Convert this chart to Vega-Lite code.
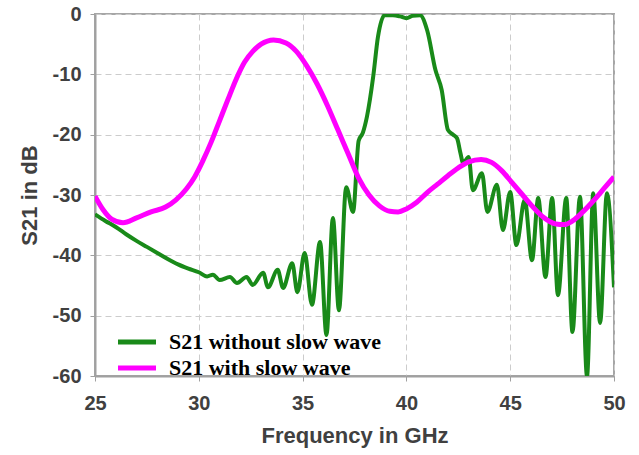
{
  "$schema": "https://vega.github.io/schema/vega-lite/v6.json",
  "width": 519,
  "height": 362,
  "autosize": {"type": "none"},
  "padding": {"left": 95, "top": 14, "right": 25, "bottom": 79},
  "background": "white",
  "config": {
    "view": {"stroke": "#a6a6a6", "strokeWidth": 2},
    "axis": {
      "labelFont": "Liberation Sans",
      "labelFontWeight": "bold",
      "labelFontSize": 20,
      "labelColor": "#404040",
      "labelFlush": false,
      "labelOverlap": false,
      "titleFont": "Liberation Sans",
      "titleFontWeight": "bold",
      "titleFontSize": 22,
      "titleColor": "#404040",
      "domainColor": "#a0a0a0",
      "domainWidth": 2,
      "tickColor": "#a0a0a0",
      "tickSize": 5,
      "gridColor": "#cccccc",
      "gridDash": [6, 4],
      "gridWidth": 1
    },
    "legend": {
      "orient": "none",
      "legendX": 31,
      "legendY": 317,
      "symbolType": "M-2.5,0H2.5",
      "symbolSize": 231,
      "symbolStrokeWidth": 5,
      "labelFont": "Liberation Serif",
      "labelFontWeight": "bold",
      "labelFontSize": 22,
      "labelColor": "#000000",
      "labelOffset": 21,
      "rowPadding": 4,
      "padding": 0,
      "labelLimit": 400
    }
  },
  "data": {
    "values": [
      {"s": "S21 without slow wave", "f": 25.0, "db": -33.2},
      {"s": "S21 without slow wave", "f": 25.5, "db": -34.3},
      {"s": "S21 without slow wave", "f": 26.0, "db": -35.3},
      {"s": "S21 without slow wave", "f": 26.5, "db": -36.5},
      {"s": "S21 without slow wave", "f": 27.0, "db": -37.6},
      {"s": "S21 without slow wave", "f": 27.5, "db": -38.6},
      {"s": "S21 without slow wave", "f": 28.0, "db": -39.6},
      {"s": "S21 without slow wave", "f": 28.5, "db": -40.6},
      {"s": "S21 without slow wave", "f": 29.0, "db": -41.5},
      {"s": "S21 without slow wave", "f": 29.5, "db": -42.2},
      {"s": "S21 without slow wave", "f": 30.0, "db": -42.8},
      {"s": "S21 without slow wave", "f": 30.4, "db": -43.5},
      {"s": "S21 without slow wave", "f": 30.68, "db": -43.2},
      {"s": "S21 without slow wave", "f": 31.0, "db": -44.1},
      {"s": "S21 without slow wave", "f": 31.5, "db": -43.6},
      {"s": "S21 without slow wave", "f": 31.84, "db": -44.6},
      {"s": "S21 without slow wave", "f": 32.3, "db": -43.6},
      {"s": "S21 without slow wave", "f": 32.6, "db": -44.9},
      {"s": "S21 without slow wave", "f": 33.1, "db": -42.9},
      {"s": "S21 without slow wave", "f": 33.33, "db": -45.3},
      {"s": "S21 without slow wave", "f": 33.8, "db": -42.4},
      {"s": "S21 without slow wave", "f": 34.06, "db": -45.4},
      {"s": "S21 without slow wave", "f": 34.5, "db": -41.3},
      {"s": "S21 without slow wave", "f": 34.75, "db": -46.1},
      {"s": "S21 without slow wave", "f": 35.1, "db": -39.6},
      {"s": "S21 without slow wave", "f": 35.45, "db": -48.2},
      {"s": "S21 without slow wave", "f": 35.84, "db": -37.8},
      {"s": "S21 without slow wave", "f": 36.15, "db": -53.2},
      {"s": "S21 without slow wave", "f": 36.46, "db": -33.8},
      {"s": "S21 without slow wave", "f": 36.75, "db": -49.1},
      {"s": "S21 without slow wave", "f": 37.1, "db": -28.7},
      {"s": "S21 without slow wave", "f": 37.43, "db": -32.8},
      {"s": "S21 without slow wave", "f": 37.7, "db": -21.0},
      {"s": "S21 without slow wave", "f": 37.9, "db": -19.7},
      {"s": "S21 without slow wave", "f": 38.1, "db": -17.0},
      {"s": "S21 without slow wave", "f": 38.4, "db": -10.4},
      {"s": "S21 without slow wave", "f": 38.63, "db": -3.8},
      {"s": "S21 without slow wave", "f": 38.95, "db": -0.2},
      {"s": "S21 without slow wave", "f": 39.35, "db": -0.2},
      {"s": "S21 without slow wave", "f": 39.7, "db": -0.4},
      {"s": "S21 without slow wave", "f": 40.0, "db": -0.7},
      {"s": "S21 without slow wave", "f": 40.3, "db": -0.3},
      {"s": "S21 without slow wave", "f": 40.66, "db": -0.2},
      {"s": "S21 without slow wave", "f": 41.0, "db": -2.7},
      {"s": "S21 without slow wave", "f": 41.4, "db": -9.3},
      {"s": "S21 without slow wave", "f": 41.7, "db": -12.6},
      {"s": "S21 without slow wave", "f": 42.0, "db": -19.2},
      {"s": "S21 without slow wave", "f": 42.25, "db": -20.0},
      {"s": "S21 without slow wave", "f": 42.44, "db": -20.6},
      {"s": "S21 without slow wave", "f": 42.6, "db": -23.0},
      {"s": "S21 without slow wave", "f": 42.73, "db": -24.7},
      {"s": "S21 without slow wave", "f": 43.0, "db": -23.7},
      {"s": "S21 without slow wave", "f": 43.2, "db": -29.2},
      {"s": "S21 without slow wave", "f": 43.64, "db": -26.4},
      {"s": "S21 without slow wave", "f": 43.9, "db": -32.8},
      {"s": "S21 without slow wave", "f": 44.36, "db": -28.3},
      {"s": "S21 without slow wave", "f": 44.65, "db": -35.8},
      {"s": "S21 without slow wave", "f": 45.0, "db": -29.5},
      {"s": "S21 without slow wave", "f": 45.3, "db": -38.3},
      {"s": "S21 without slow wave", "f": 45.7, "db": -30.8},
      {"s": "S21 without slow wave", "f": 46.05, "db": -40.8},
      {"s": "S21 without slow wave", "f": 46.35, "db": -30.5},
      {"s": "S21 without slow wave", "f": 46.7, "db": -43.6},
      {"s": "S21 without slow wave", "f": 47.02, "db": -30.5},
      {"s": "S21 without slow wave", "f": 47.3, "db": -46.6},
      {"s": "S21 without slow wave", "f": 47.7, "db": -30.5},
      {"s": "S21 without slow wave", "f": 48.0, "db": -52.7},
      {"s": "S21 without slow wave", "f": 48.36, "db": -30.3},
      {"s": "S21 without slow wave", "f": 48.7, "db": -60.0},
      {"s": "S21 without slow wave", "f": 49.0, "db": -29.7},
      {"s": "S21 without slow wave", "f": 49.33, "db": -51.2},
      {"s": "S21 without slow wave", "f": 49.66, "db": -29.7},
      {"s": "S21 without slow wave", "f": 50.0, "db": -45.3},
      {"s": "S21 with slow wave", "f": 25.0, "db": -30.2},
      {"s": "S21 with slow wave", "f": 25.4, "db": -32.5},
      {"s": "S21 with slow wave", "f": 25.8, "db": -34.0},
      {"s": "S21 with slow wave", "f": 26.35, "db": -34.6},
      {"s": "S21 with slow wave", "f": 27.0, "db": -33.8},
      {"s": "S21 with slow wave", "f": 27.7, "db": -32.8},
      {"s": "S21 with slow wave", "f": 28.4, "db": -32.0},
      {"s": "S21 with slow wave", "f": 28.9, "db": -30.8},
      {"s": "S21 with slow wave", "f": 29.4, "db": -29.0},
      {"s": "S21 with slow wave", "f": 29.8, "db": -27.0},
      {"s": "S21 with slow wave", "f": 30.2, "db": -24.3},
      {"s": "S21 with slow wave", "f": 30.6, "db": -21.2},
      {"s": "S21 with slow wave", "f": 31.0, "db": -17.7},
      {"s": "S21 with slow wave", "f": 31.4, "db": -14.2},
      {"s": "S21 with slow wave", "f": 31.8, "db": -10.8},
      {"s": "S21 with slow wave", "f": 32.2, "db": -8.0},
      {"s": "S21 with slow wave", "f": 32.6, "db": -6.2},
      {"s": "S21 with slow wave", "f": 33.0, "db": -5.0},
      {"s": "S21 with slow wave", "f": 33.6, "db": -4.3},
      {"s": "S21 with slow wave", "f": 34.2, "db": -4.8},
      {"s": "S21 with slow wave", "f": 34.7, "db": -6.2},
      {"s": "S21 with slow wave", "f": 35.2, "db": -8.6},
      {"s": "S21 with slow wave", "f": 35.7, "db": -11.6},
      {"s": "S21 with slow wave", "f": 36.2, "db": -15.2},
      {"s": "S21 with slow wave", "f": 36.7, "db": -19.2},
      {"s": "S21 with slow wave", "f": 37.2, "db": -23.2},
      {"s": "S21 with slow wave", "f": 37.7, "db": -27.2},
      {"s": "S21 with slow wave", "f": 38.2, "db": -30.0},
      {"s": "S21 with slow wave", "f": 38.7, "db": -31.8},
      {"s": "S21 with slow wave", "f": 39.2, "db": -32.7},
      {"s": "S21 with slow wave", "f": 39.6, "db": -32.8},
      {"s": "S21 with slow wave", "f": 40.0, "db": -32.3},
      {"s": "S21 with slow wave", "f": 40.5, "db": -31.2},
      {"s": "S21 with slow wave", "f": 41.0, "db": -29.6},
      {"s": "S21 with slow wave", "f": 41.5, "db": -28.2},
      {"s": "S21 with slow wave", "f": 42.0, "db": -26.8},
      {"s": "S21 with slow wave", "f": 42.5, "db": -25.5},
      {"s": "S21 with slow wave", "f": 43.0, "db": -24.5},
      {"s": "S21 with slow wave", "f": 43.6, "db": -24.1},
      {"s": "S21 with slow wave", "f": 44.1, "db": -24.6},
      {"s": "S21 with slow wave", "f": 44.6, "db": -26.0},
      {"s": "S21 with slow wave", "f": 45.1, "db": -28.0},
      {"s": "S21 with slow wave", "f": 45.6, "db": -30.0},
      {"s": "S21 with slow wave", "f": 46.1, "db": -32.0},
      {"s": "S21 with slow wave", "f": 46.6, "db": -33.7},
      {"s": "S21 with slow wave", "f": 47.2, "db": -34.8},
      {"s": "S21 with slow wave", "f": 47.6, "db": -34.9},
      {"s": "S21 with slow wave", "f": 48.0, "db": -34.3},
      {"s": "S21 with slow wave", "f": 48.5, "db": -32.8},
      {"s": "S21 with slow wave", "f": 49.0, "db": -31.0},
      {"s": "S21 with slow wave", "f": 49.5, "db": -29.0},
      {"s": "S21 with slow wave", "f": 50.0, "db": -27.0}
    ]
  },
  "encoding": {
    "x": {
      "field": "f",
      "type": "quantitative",
      "scale": {"domain": [25, 50], "nice": false, "zero": false},
      "axis": {
        "title": "Frequency in GHz",
        "values": [25, 30, 35, 40, 45, 50],
        "labelPadding": 12,
        "titlePadding": 12,
        "grid": true
      }
    },
    "y": {
      "field": "db",
      "type": "quantitative",
      "scale": {"domain": [-60, 0], "nice": false, "zero": false},
      "axis": {
        "title": "S21 in dB",
        "values": [-60, -50, -40, -30, -20, -10, 0],
        "labelExpr": "'' + datum.value",
        "labelPadding": 9,
        "titlePadding": 11,
        "grid": true
      }
    },
    "color": {
      "field": "s",
      "type": "nominal",
      "scale": {
        "domain": ["S21 without slow wave", "S21 with slow wave"],
        "range": ["#198a19", "#ff00ff"]
      },
      "legend": {"title": null}
    }
  },
  "layer": [
    {
      "transform": [{"filter": "datum.s === 'S21 without slow wave'"}],
      "mark": {"type": "line", "interpolate": "monotone", "strokeWidth": 4, "clip": true}
    },
    {
      "transform": [{"filter": "datum.s === 'S21 with slow wave'"}],
      "mark": {"type": "line", "interpolate": "monotone", "strokeWidth": 5, "clip": true}
    }
  ]
}
